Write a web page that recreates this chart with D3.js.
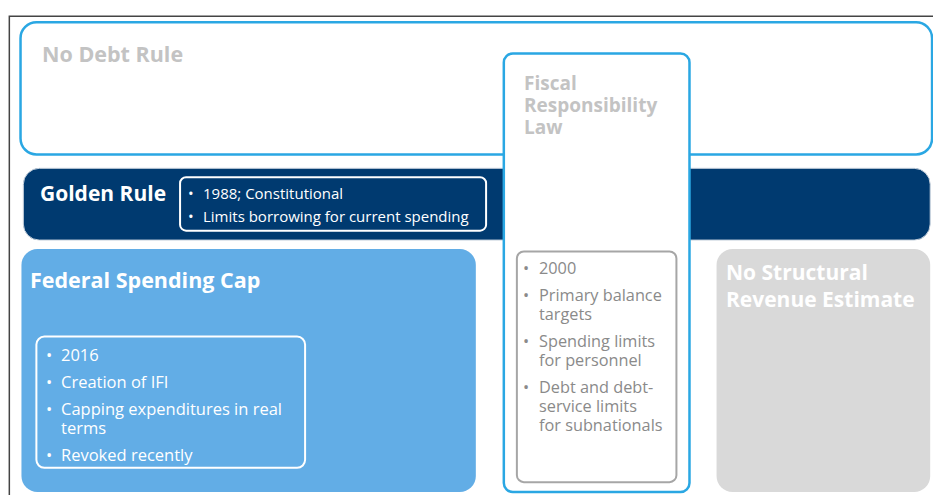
<!DOCTYPE html>
<html>
<head>
<meta charset="utf-8">
<script src="https://cdn.jsdelivr.net/npm/d3@7"></script>
<style>
  body { margin: 0; background: #fff; }
  svg { display: block; font-family: "Open Sans", "Noto Sans", sans-serif; }
</style>
</head>
<body>
<div class="holder"></div>
<script>
// the texts of the picture
const noDebtTitle = ["No Debt Rule"]
const goldenTitle = ["Golden Rule"]
const goldenBullets = ["1988; Constitutional", "Limits borrowing for current spending"]
const spendingTitle = ["Federal Spending Cap"]
const spendingBullets = [["2016"], ["Creation of IFI"], ["Capping expenditures in real", "terms"], ["Revoked recently"]]
const frlTitle = ["Fiscal", "Responsibility", "Law"]
const frlBullets = [["2000"], ["Primary balance", "targets"], ["Spending limits", "for personnel"], ["Debt and debt-", "service limits", "for subnationals"]]
const structTitle = ["No Structural", "Revenue Estimate"]

var width = 933,
    height = 495;

// layout runs on a 0..100 grid in both directions
var x = d3.scaleLinear().domain([0, 100]).range([0, width])
var y = d3.scaleLinear().domain([0, 100]).range([0, height])

var svg = d3.select(".holder").append("svg")
    .attr("width", width)
    .attr("height", height)

var lightBlue = "#2aa7e3"

function box(x0, y0, x1, y1, rx, fill, stroke, sw) {
    svg.append("rect")
        .attr("x", x(x0)).attr("y", y(y0))
        .attr("width", x(x1) - x(x0)).attr("height", y(y1) - y(y0))
        .attr("rx", rx).attr("ry", rx)
        .style("fill", fill)
        .style("stroke", stroke)
        .style("stroke-width", sw)
}

// one text element, lines as tspans
function title(lines, px, py, step, color, size) {
    svg.append("text")
        .attr("x", px).attr("y", py)
        .style("font-weight", "bold")
        .style("font-size", size + "px")
        .style("fill", color)
        .selectAll("tspan")
        .data(lines).enter()
        .append("tspan")
        .attr("x", px)
        .attr("dy", (d, i) => i == 0 ? 0 : step)
        .text(d => d)
}

// bullets: one text per group, wrapped lines as tspans
function bullets(groups, bx, tx, py, lineStep, groupGap, color, size) {
    var starts = []
    var yy = py
    groups.forEach(function(g) {
        starts.push(yy)
        yy += g.length * lineStep + groupGap
    })
    var g = svg.append("g").style("fill", color).style("font-size", size + "px")
    var item = g.selectAll(".item")
        .data(groups).enter()
        .append("text")
        .attr("class", "item")
        .attr("x", tx).attr("y", (d, i) => starts[i])
    item.append("tspan")
        .attr("x", bx)
        .text("•")
    item.selectAll(".ln")
        .data(d => d).enter()
        .append("tspan")
        .attr("class", "ln")
        .attr("x", tx)
        .attr("dy", (d, i) => i == 0 ? 0 : lineStep)
        .text(d => d)
}

// outer frame
svg.append("path")
    .attr("d", "M" + x(1) + "," + height + "V" + y(3.3) + "H" + width)
    .style("fill", "none")
    .style("stroke", "#444")
    .style("stroke-width", 1.5)

// No Debt Rule
box(2.2, 4.5, 99.9, 31.2, 16, "#fff", lightBlue, 2.5)
title(noDebtTitle, 42, 62, 0, "#c3c3c3", 21.5)

// Golden Rule bar
box(2.5, 34, 99.7, 48.5, 16, "#003a70", "#c9d3de", 1)
title(goldenTitle, 40, 201, 0, "#fff", 21)
box(19.3, 35.8, 52.1, 46.6, 6, "none", "#fff", 2)
bullets(goldenBullets.map(d => [d]), 188, 203, 199, 23, 0, "#fff", 15)

// Federal Spending Cap
box(2.3, 50.3, 51, 99.4, 16, "#62ade6", "none", 0)
title(spendingTitle, 30, 288, 0, "#fff", 21.5)
box(3.9, 68, 32.7, 94.5, 8, "none", "#fff", 2)
bullets(spendingBullets, 46, 61, 361, 19, 8, "#fff", 16.5)

// No Structural Revenue Estimate
box(76.8, 50.3, 99.7, 99.4, 16, "#d9d9d9", "none", 0)
title(structTitle, 726, 280, 27, "#fff", 21)

// Fiscal Responsibility Law
box(54, 10.8, 73.9, 99.4, 9, "#fff", lightBlue, 2.5)
title(frlTitle, 524, 90, 22, "#c3c3c3", 19)
box(55.4, 50.8, 72.5, 97.4, 7, "#fff", "#a6a6a6", 2)
bullets(frlBullets, 523, 539, 274, 19, 8, "#8a8a8a", 16.3)
</script>
</body>
</html>
